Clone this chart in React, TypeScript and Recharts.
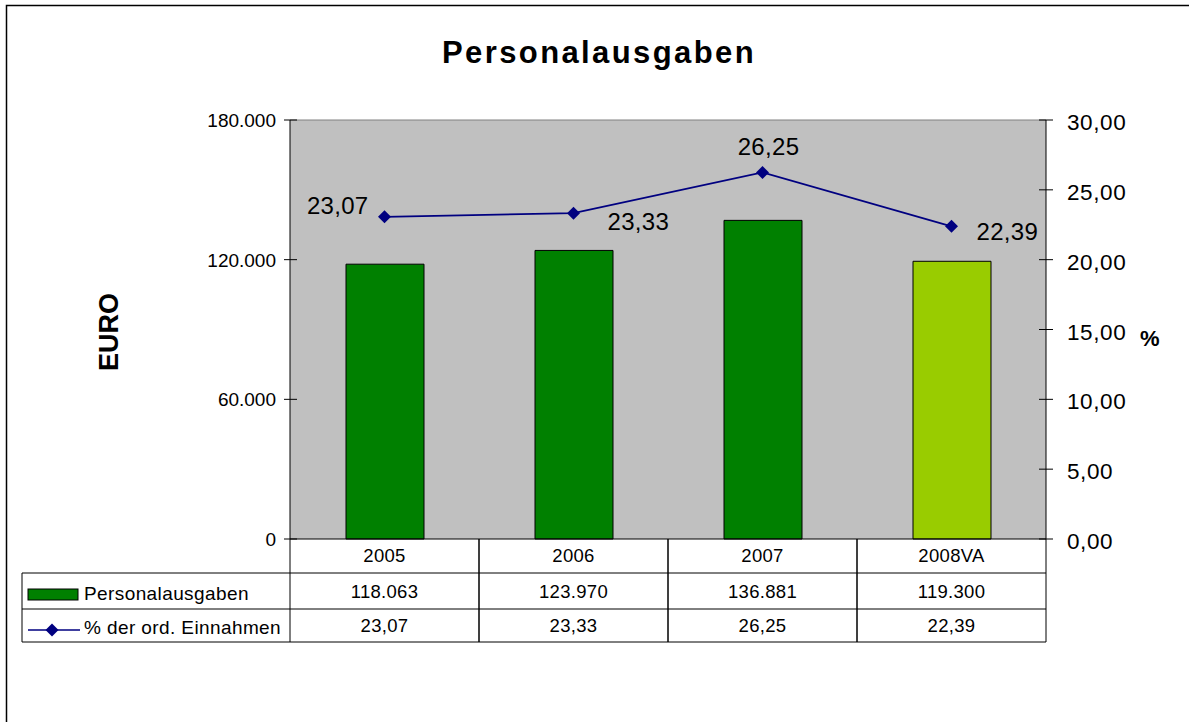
import React from "react";
import { Bar, CartesianGrid, Cell, ComposedChart, Line, ReferenceLine, XAxis, YAxis } from "recharts";

// values
const categories = ["2005", "2006", "2007", "2008VA"];
const personalausgaben = [118063, 123970, 136881, 119300];
const anteilEinnahmen = [23.07, 23.33, 26.25, 22.39];
const barColors = ["#008000", "#008000", "#008000", "#99CC00"];
const euroTicks = [0, 60000, 120000, 180000];
const pctTicks = [0, 5, 10, 15, 20, 25, 30];

const data = categories.map((year, i) => ({
  year,
  amount: personalausgaben[i],
  pct: anteilEinnahmen[i],
}));

if (typeof document !== "undefined") {
  document.documentElement.style.overflow = "hidden";
  document.body.style.overflow = "hidden";
  document.body.style.margin = "0";
}

const W = 1189;
const H = 722;
const FONT = "'Liberation Sans', Arial, sans-serif";
const margin = { top: 120, right: 0, bottom: 80, left: 210 };
const leftAxisW = 80;
const rightAxisW = 143;
const colW = (W - margin.left - margin.right - leftAxisW - rightAxisW) / categories.length;
const tableLeft = 22;

// label placement per point (dx, dy from the marker, anchor)
const labelPos = [
  { dx: -16, dy: -3, anchor: "end" },
  { dx: 34, dy: 17, anchor: "start" },
  { dx: 6, dy: -17, anchor: "middle" },
  { dx: 25, dy: 14, anchor: "start" },
];

const fmtEuro = (v: number) => String(Math.round(v)).replace(/\B(?=(\d{3})+(?!\d))/g, ".");
const fmtPct = (v: number) => v.toFixed(2).replace(".", ",");

const EuroTick = (props: any) => {
  const { x, y, payload } = props;
  return (
    <g>
      <line x1={x - 6} x2={x + 7} y1={y} y2={y} stroke="#000" />
      <text x={x - 14} y={y + 7} textAnchor="end" fontSize={19} fontFamily={FONT} fill="#000">
        {fmtEuro(payload.value)}
      </text>
    </g>
  );
};

const PctTick = (props: any) => {
  const { x, y, payload } = props;
  return (
    <g>
      <line x1={x - 7} x2={x + 7} y1={y} y2={y} stroke="#000" />
      <text x={x + 21} y={y + 10} textAnchor="start" fontSize={22.5} letterSpacing={0.6} fontFamily={FONT} fill="#000">
        {fmtPct(payload.value)}
      </text>
    </g>
  );
};

const TableTick = (props: any) => {
  const { x, y, index } = props;
  const l = x - colW / 2;
  const r = x + colW / 2;
  const r1 = y + 34;
  const r2 = y + 70;
  const r3 = y + 103;
  const txt = { fontSize: 18.5, fontFamily: FONT, fill: "#000", textAnchor: "middle" as const, letterSpacing: 0.3 };
  return (
    <g>
      <line x1={l} x2={l} y1={y} y2={r3} stroke="#000" />
      <line x1={r} x2={r} y1={y} y2={r3} stroke="#000" />
      <line x1={l} x2={r} y1={r1} y2={r1} stroke="#000" />
      <line x1={l} x2={r} y1={r2} y2={r2} stroke="#000" />
      <line x1={l} x2={r} y1={r3} y2={r3} stroke="#000" />
      <text x={x} y={y + 23} {...txt}>{categories[index]}</text>
      <text x={x} y={y + 59} {...txt}>{fmtEuro(personalausgaben[index])}</text>
      <text x={x} y={y + 93} {...txt}>{fmtPct(anteilEinnahmen[index])}</text>
      {index === 0 && (
        <g>
          <line x1={tableLeft} x2={l} y1={r1} y2={r1} stroke="#000" />
          <line x1={tableLeft} x2={l} y1={r2} y2={r2} stroke="#000" />
          <line x1={tableLeft} x2={l} y1={r3} y2={r3} stroke="#000" />
          <line x1={tableLeft} x2={tableLeft} y1={r1} y2={r3} stroke="#000" />
          <rect x={28} y={r1 + 16} width={50} height={11} fill="#008000" stroke="#000" />
          <text x={84} y={r1 + 27} fontSize={19} letterSpacing={0.4} fontFamily={FONT} fill="#000">Personalausgaben</text>
          <line x1={28} x2={80} y1={r2 + 21} y2={r2 + 21} stroke="#000080" strokeWidth={1.5} />
          <polygon
            points={`52,${r2 + 14.5} 58.5,${r2 + 21} 52,${r2 + 27.5} 45.5,${r2 + 21}`}
            fill="#000080"
          />
          <text x={84} y={r2 + 25} fontSize={19} letterSpacing={0.4} fontFamily={FONT} fill="#000">% der ord. Einnahmen</text>
        </g>
      )}
    </g>
  );
};

const Diamond = (props: any) => {
  const { cx, cy } = props;
  if (cx == null || cy == null) return null;
  return <polygon points={`${cx},${cy - 6.5} ${cx + 6.5},${cy} ${cx},${cy + 6.5} ${cx - 6.5},${cy}`} fill="#000080" />;
};

const PctLabel = (props: any) => {
  const { x, y, index, value } = props;
  const p = labelPos[index] || labelPos[0];
  return (
    <text x={x + p.dx} y={y + p.dy} textAnchor={p.anchor} fontSize={24} letterSpacing={0.3} fontFamily={FONT} fill="#000">
      {fmtPct(value)}
    </text>
  );
};

export default function App() {
  return (
    <div style={{ position: "fixed", left: 0, top: 0, width: W, height: H, overflow: "hidden", background: "#fff" }}>
      <ComposedChart width={W} height={H} data={data} margin={margin} accessibilityLayer={false}>
        <CartesianGrid yAxisId="left" fill="#C0C0C0" fillOpacity={1} horizontal={false} vertical={false} />
        <XAxis
          dataKey="year"
          height={103}
          tickSize={0}
          tickMargin={0}
          tickLine={false}
          axisLine={{ stroke: "#000" }}
          tick={TableTick}
          interval={0}
        />
        <YAxis
          yAxisId="left"
          orientation="left"
          width={leftAxisW}
          domain={[0, 180000]}
          ticks={euroTicks}
          tickSize={0}
          tickMargin={0}
          tickLine={false}
          axisLine={{ stroke: "#000" }}
          tick={EuroTick}
          interval={0}
        />
        <YAxis
          yAxisId="right"
          orientation="right"
          width={rightAxisW}
          domain={[0, 30]}
          ticks={pctTicks}
          tickSize={0}
          tickMargin={0}
          tickLine={false}
          axisLine={{ stroke: "#000" }}
          tick={PctTick}
          interval={0}
        />
        <ReferenceLine yAxisId="left" y={180000} stroke="#808080" />
        <Bar yAxisId="left" dataKey="amount" barSize={78} stroke="#000" strokeWidth={1} isAnimationActive={false}>
          {data.map((d, i) => (
            <Cell key={d.year} fill={barColors[i]} />
          ))}
        </Bar>
        <Line
          yAxisId="right"
          dataKey="pct"
          stroke="#000080"
          strokeWidth={1.75}
          dot={<Diamond />}
          activeDot={false}
          label={<PctLabel />}
          isAnimationActive={false}
        />
      </ComposedChart>
      <svg width={W} height={H} style={{ position: "absolute", left: 0, top: 0, pointerEvents: "none" }}>
        <polyline points={`${W + 5},5.5 6.5,5.5 6.5,${H + 5}`} fill="none" stroke="#000" strokeWidth={1.5} />
        <text x={599} y={63} textAnchor="middle" fontSize={31} fontWeight="bold" letterSpacing={2.4} fontFamily={FONT} fill="#000">
          Personalausgaben
        </text>
        <text
          transform="translate(118,332) rotate(-90)"
          textAnchor="middle"
          fontSize={27}
          fontWeight="bold"
          fontFamily={FONT}
          fill="#000"
        >
          EURO
        </text>
        <text x={1140} y={346} fontSize={22} fontWeight="bold" fontFamily={FONT} fill="#000">
          %
        </text>
      </svg>
    </div>
  );
}
